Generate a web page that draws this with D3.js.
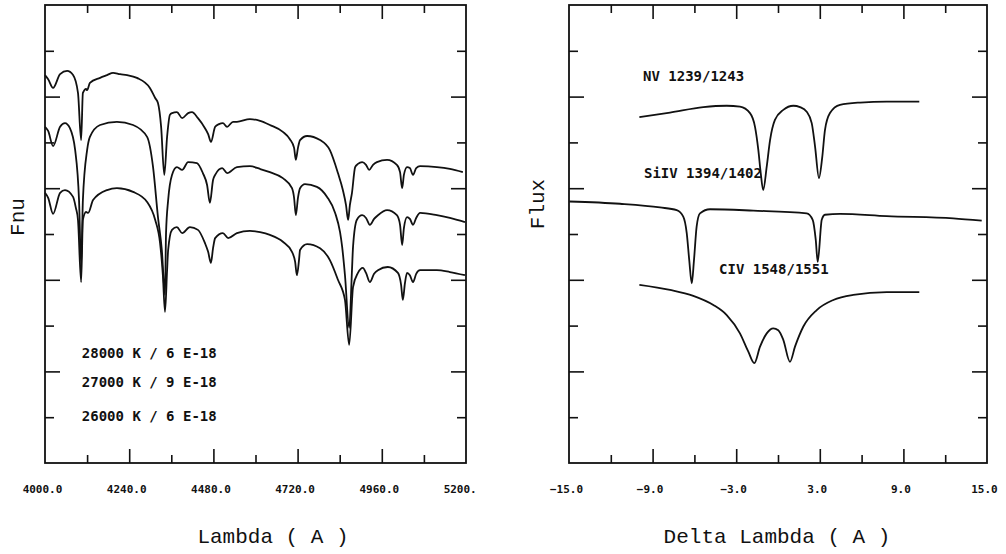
<!DOCTYPE html>
<html>
<head>
<meta charset="utf-8">
<script src="https://cdn.jsdelivr.net/npm/d3@7"></script>
<style>
  body { margin: 0; background: #fff; }
  svg { display: block; }
  .tick line { stroke: #111; stroke-width: 1.6; }
  .domain { display: none; }
</style>
</head>
<body>
<div id="chart"></div>
<script>
// model fits, left panel: [lambda, Fnu] (offset for display)
var fit28000 = [[4000,8.47],[4009,8.38],[4023,8.19],[4043,8.49],[4063,8.56],[4080,8.47],[4094,8.08],[4103,7.05],[4108,8.08],[4117,8.17],[4120,8.14],[4128,8.30],[4157,8.41],[4177,8.47],[4194,8.52],[4214,8.49],[4234,8.47],[4262,8.41],[4299,8.19],[4314,7.97],[4322,7.86],[4331,7.34],[4340,6.29],[4348,7.12],[4356,7.60],[4362,7.64],[4376,7.66],[4391,7.53],[4408,7.64],[4419,7.66],[4436,7.53],[4456,7.31],[4465,7.18],[4473,7.01],[4485,7.34],[4496,7.40],[4507,7.42],[4519,7.34],[4536,7.45],[4547,7.45],[4584,7.51],[4613,7.47],[4641,7.38],[4678,7.23],[4698,7.07],[4710,6.88],[4715,6.62],[4721,6.88],[4727,7.05],[4747,7.14],[4784,7.05],[4812,6.83],[4835,6.33],[4849,5.96],[4858,5.63],[4864,5.31],[4869,5.63],[4875,5.90],[4884,6.46],[4892,6.53],[4904,6.57],[4915,6.51],[4924,6.40],[4935,6.51],[4946,6.57],[4975,6.62],[5003,6.51],[5012,6.35],[5018,6.00],[5023,6.29],[5032,6.46],[5040,6.44],[5049,6.29],[5058,6.44],[5069,6.48],[5117,6.46],[5154,6.42],[5191,6.35]];

var fit27000 = [[4000,7.34],[4009,7.25],[4023,6.92],[4043,7.34],[4057,7.42],[4071,7.31],[4086,6.83],[4097,5.74],[4103,4.32],[4108,5.74],[4120,6.83],[4128,7.12],[4157,7.38],[4205,7.45],[4251,7.38],[4291,7.12],[4308,6.46],[4322,5.37],[4333,4.65],[4342,3.67],[4345,5.02],[4351,5.74],[4362,6.29],[4376,6.46],[4391,6.40],[4408,6.57],[4433,6.55],[4450,6.33],[4462,6.07],[4470,5.68],[4479,6.18],[4485,6.29],[4505,6.44],[4519,6.33],[4547,6.46],[4584,6.48],[4613,6.42],[4641,6.35],[4678,6.22],[4704,6.00],[4710,5.79],[4715,5.41],[4721,5.79],[4727,6.00],[4741,6.09],[4775,6.03],[4804,5.81],[4827,5.46],[4841,5.04],[4847,4.72],[4855,4.10],[4867,2.95],[4875,4.21],[4878,4.72],[4889,5.31],[4904,5.41],[4915,5.35],[4926,5.20],[4938,5.33],[4949,5.41],[4975,5.52],[5003,5.41],[5012,5.20],[5018,4.76],[5023,5.13],[5032,5.37],[5040,5.33],[5049,5.20],[5058,5.35],[5069,5.46],[5117,5.41],[5154,5.35],[5197,5.26]];

var fit26000 = [[4000,5.90],[4009,5.79],[4023,5.44],[4043,5.90],[4057,5.96],[4080,5.81],[4088,5.57],[4094,5.31],[4103,3.95],[4108,5.31],[4117,5.48],[4123,5.46],[4137,5.74],[4177,5.96],[4205,6.00],[4251,5.92],[4291,5.70],[4314,5.31],[4328,4.80],[4336,4.10],[4342,3.30],[4348,4.21],[4351,4.65],[4362,5.09],[4376,5.15],[4391,5.02],[4413,5.15],[4436,5.09],[4456,4.80],[4465,4.61],[4473,4.37],[4479,4.69],[4485,4.91],[4507,5.02],[4522,4.91],[4547,5.02],[4584,5.07],[4613,5.04],[4641,4.98],[4678,4.83],[4704,4.61],[4713,4.39],[4718,4.10],[4724,4.43],[4727,4.65],[4747,4.78],[4784,4.69],[4812,4.43],[4835,4.00],[4855,3.56],[4867,2.58],[4878,3.84],[4892,4.15],[4906,4.26],[4915,4.15],[4926,3.95],[4938,4.13],[4949,4.21],[4977,4.28],[5006,4.15],[5015,3.89],[5020,3.56],[5026,3.93],[5032,4.15],[5040,4.10],[5049,3.95],[5058,4.13],[5069,4.21],[5117,4.21],[5154,4.17],[5197,4.10]];

var fitLabels = ["28000 K / 6 E-18", "27000 K / 9 E-18", "26000 K / 6 E-18"];

// UV resonance doublets, right panel: [delta lambda, flux]
var nvLine = [[-9.95,7.55],[-7.75,7.65],[-5.36,7.77],[-3.68,7.80],[-2.73,7.78],[-2.01,7.64],[-1.65,7.34],[-1.41,6.83],[-1.24,6.33],[-1.06,5.96],[-0.81,6.47],[-0.57,7.05],[-0.22,7.49],[0.38,7.71],[1.10,7.80],[1.58,7.77],[2.06,7.67],[2.42,7.42],[2.66,6.91],[2.94,6.22],[3.18,6.69],[3.37,7.27],[3.73,7.64],[4.45,7.82],[5.89,7.87],[7.80,7.89],[10.14,7.89]];

var siivLine = [[-14.98,5.71],[-11.34,5.66],[-8.47,5.58],[-7.27,5.52],[-6.80,5.38],[-6.55,5.02],[-6.37,4.43],[-6.19,3.92],[-6.03,4.43],[-5.84,5.16],[-5.60,5.45],[-4.88,5.54],[-1.77,5.51],[2.06,5.45],[2.49,5.31],[2.71,4.87],[2.85,4.39],[3.14,5.31],[3.37,5.42],[4.45,5.44],[7.80,5.39],[12.58,5.34],[14.62,5.29]];

var civLine = [[-9.95,3.89],[-7.75,3.78],[-6.08,3.65],[-4.64,3.45],[-3.68,3.23],[-2.73,2.83],[-2.13,2.43],[-1.70,2.18],[-1.29,2.54],[-0.81,2.83],[-0.34,2.94],[0.02,2.90],[0.38,2.69],[0.86,2.21],[1.22,2.54],[1.82,2.98],[2.78,3.34],[3.97,3.56],[5.40,3.67],[7.80,3.73],[10.14,3.73]];

var lineLabels = ["NV 1239/1243", "SiIV 1394/1402", "CIV 1548/1551"];

var lambdaTicks = [4000, 4240, 4480, 4720, 4960, 5200];
var deltaTicks = [-15, -9, -3, 3, 9, 15];

var width = 1006, height = 554;
var plotTop = 5, plotBottom = 463;
var mono = "'DejaVu Sans Mono', monospace";
var titleFont = "'Liberation Mono', 'DejaVu Sans Mono', monospace";

var svg = d3.select("#chart").append("svg")
  .attr("width", width)
  .attr("height", height);

svg.append("defs").append("clipPath")
  .attr("id", "leftclip")
  .append("rect")
  .attr("x", 0).attr("y", 0)
  .attr("width", 476).attr("height", height);

var yFlux = d3.scaleLinear().domain([0, 10]).range([plotBottom, plotTop]);

function range(a, b, step) {
  return d3.range(a, b + step / 2, step);
}

// frame + inward ticks, majors every 2nd
function drawFrame(g, x, xMinor, xMajor) {
  var x0 = x.range()[0], x1 = x.range()[1];
  var yMinor = [1, 3, 5, 7, 9], yMajor = [2, 4, 6, 8];

  g.append("g").attr("transform", "translate(0," + plotBottom + ")")
    .call(d3.axisTop(x).tickValues(xMinor).tickSize(8).tickFormat(""));
  g.append("g").attr("transform", "translate(0," + plotBottom + ")")
    .call(d3.axisTop(x).tickValues(xMajor).tickSize(14).tickFormat(""));
  g.append("g").attr("transform", "translate(0," + plotTop + ")")
    .call(d3.axisBottom(x).tickValues(xMinor).tickSize(8).tickFormat(""));
  g.append("g").attr("transform", "translate(0," + plotTop + ")")
    .call(d3.axisBottom(x).tickValues(xMajor).tickSize(14).tickFormat(""));

  g.append("g").attr("transform", "translate(" + x0 + ",0)")
    .call(d3.axisRight(yFlux).tickValues(yMinor).tickSize(9).tickFormat(""));
  g.append("g").attr("transform", "translate(" + x0 + ",0)")
    .call(d3.axisRight(yFlux).tickValues(yMajor).tickSize(15).tickFormat(""));
  g.append("g").attr("transform", "translate(" + x1 + ",0)")
    .call(d3.axisLeft(yFlux).tickValues(yMinor).tickSize(9).tickFormat(""));
  g.append("g").attr("transform", "translate(" + x1 + ",0)")
    .call(d3.axisLeft(yFlux).tickValues(yMajor).tickSize(15).tickFormat(""));

  g.append("rect")
    .attr("x", x0).attr("y", plotTop)
    .attr("width", x1 - x0).attr("height", plotBottom - plotTop)
    .attr("fill", "none")
    .attr("stroke", "#111")
    .attr("stroke-width", 1.8);
}

function drawTickLabels(g, x, values) {
  var ax = g.append("g")
    .attr("transform", "translate(0," + plotBottom + ")")
    .call(d3.axisBottom(x).tickValues(values).tickSize(0).tickPadding(22)
      .tickFormat(d3.format(".1f")));
  ax.selectAll("text")
    .attr("dx", -3)
    .attr("font-family", mono)
    .attr("font-weight", "bold")
    .attr("font-size", "11px")
    .attr("fill", "#111");
}

function drawCurve(g, x, data) {
  var line = d3.line()
    .x(function(d) { return x(d[0]); })
    .y(function(d) { return yFlux(d[1]); })
    .curve(d3.curveMonotoneX);
  g.append("path")
    .datum(data)
    .attr("d", line)
    .attr("fill", "none")
    .attr("stroke", "#111")
    .attr("stroke-width", 1.8)
    .attr("stroke-linejoin", "round");
}

function label(g, x, y, txt, size) {
  g.append("text")
    .attr("x", x).attr("y", y)
    .attr("dominant-baseline", "central")
    .attr("font-family", mono)
    .attr("font-weight", "bold")
    .attr("font-size", size)
    .attr("fill", "#111")
    .text(txt);
}

function title(g, x, y, txt, rotate) {
  var t = g.append("text")
    .attr("text-anchor", "middle")
    .attr("dominant-baseline", "central")
    .attr("font-family", titleFont)
    .attr("font-size", "21px")
    .attr("fill", "#111")
    .text(txt);
  if (rotate) {
    t.attr("transform", "translate(" + x + "," + y + ") rotate(-90)");
  } else {
    t.attr("x", x).attr("y", y);
  }
}

// ---- left panel: optical spectrum
var xLambda = d3.scaleLinear().domain([4000, 5200]).range([45, 466]);
var leftPanel = svg.append("g").attr("clip-path", "url(#leftclip)");

drawFrame(leftPanel, xLambda, range(4120, 5080, 240), range(4240, 4960, 240));
drawTickLabels(leftPanel, xLambda, lambdaTicks);
[fit28000, fit27000, fit26000].forEach(function(d) { drawCurve(leftPanel, xLambda, d); });

var fitLabelY = [2.40, 1.77, 1.03];
fitLabels.forEach(function(t, i) {
  label(leftPanel, xLambda(4105), yFlux(fitLabelY[i]), t, "14px");
});

title(svg, 273, 537, "Lambda ( A )");
title(svg, 18, 217, "Fnu", true);

// ---- right panel: UV lines
var xDelta = d3.scaleLinear().domain([-15, 15]).range([569, 987]);
var rightPanel = svg.append("g");

drawFrame(rightPanel, xDelta, range(-12, 12, 6), range(-9, 9, 6));
drawTickLabels(rightPanel, xDelta, deltaTicks);
[nvLine, siivLine, civLine].forEach(function(d) { drawCurve(rightPanel, xDelta, d); });

var lineLabelX = [-9.69, -9.62, -4.23];
var lineLabelY = [8.45, 6.33, 4.24];
lineLabels.forEach(function(t, i) {
  label(rightPanel, xDelta(lineLabelX[i]), yFlux(lineLabelY[i]), t, "14px");
});

title(svg, 777, 537, "Delta Lambda ( A )");
title(svg, 538, 204, "Flux", true);
</script>
</body>
</html>
